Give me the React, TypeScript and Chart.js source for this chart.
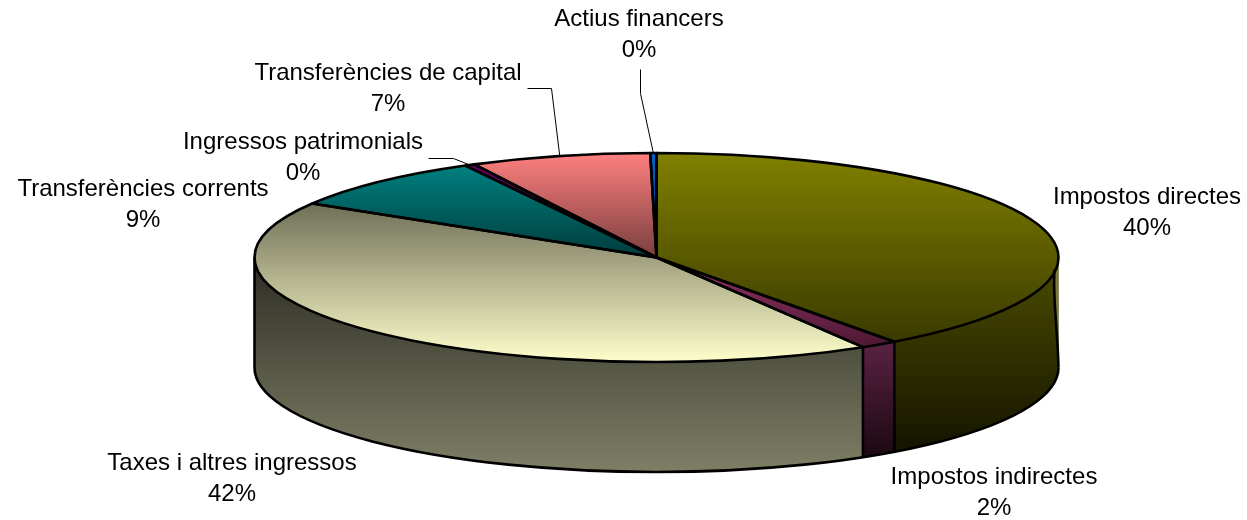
import React, { useEffect, useRef } from "react";
import { Chart, registerables } from "chart.js";

Chart.register(...registerables);

const categories = [
  "Impostos directes",
  "Impostos indirectes",
  "Taxes i altres ingressos",
  "Transferències corrents",
  "Ingressos patrimonials",
  "Transferències de capital",
  "Actius financers",
];
const shareValues = [40, 1.5, 42.3, 8.5, 0.4, 7.25, 0.25];
const percentLabels = ["40%", "2%", "42%", "9%", "0%", "7%", "0%"];

// styles: [bright end / top, far end / bottom] of each slice's surfaces
const topStops = [
  ["#808000", "#3a3a00"],
  ["#993366", "#4c1933"],
  ["#6f6f58", "#ffffcc"],
  ["#008080", "#003c3c"],
  ["#660066", "#330033"],
  ["#ff8080", "#7a3e3e"],
  ["#0066cc", "#003366"],
];
const wallStops = [
  ["#4c4c00", "#141400"],
  ["#5a2242", "#1c0812"],
  ["#2c2c24", "#7f7f66"],
  ["#004040", "#001010"],
  ["#330033", "#100010"],
  ["#7f4040", "#301818"],
  ["#003366", "#001020"],
];

// layout of the pie on the page
const CX = 656.5;
const CY = 257.5;
const RX = 402;
const RY = 104.5;
const DEPTH = 110;
const FONT = '24px "Liberation Sans", Arial, sans-serif';
const LINE_GAP = 31;
const OUTLINE = 2.6;

// label centres and leader elbows, indexed like categories
const labelPos: [number, number][] = [
  [1147, 197],
  [994, 477],
  [232, 463],
  [143, 189],
  [303, 142],
  [388, 73],
  [639, 19],
];
const leaders: ([number, number][] | null)[] = [
  null,
  null,
  null,
  null,
  [[428, 158], [453, 158]],
  [[527, 88], [551, 88]],
  [[640, 69], [640, 93]],
];

const total = shareValues.reduce((a, b) => a + b, 0);

// min and max of sin(angle) across a slice, on the unit circle
function sliceSinRange(i: number, withCentre: boolean): [number, number] {
  let before = 0;
  for (let k = 0; k < i; k++) before += shareValues[k];
  const a0 = -Math.PI / 2 + (before / total) * 2 * Math.PI;
  const a1 = a0 + (shareValues[i] / total) * 2 * Math.PI;
  let lo = Math.min(Math.sin(a0), Math.sin(a1));
  let hi = Math.max(Math.sin(a0), Math.sin(a1));
  if (a0 <= Math.PI / 2 && a1 >= Math.PI / 2) hi = 1;
  if (a0 <= -Math.PI / 2 + 1e-9 && a1 >= -Math.PI / 2) lo = -1;
  if (a0 <= (3 * Math.PI) / 2 && a1 >= (3 * Math.PI) / 2) lo = -1;
  if (withCentre) {
    lo = Math.min(lo, 0);
    hi = Math.max(hi, 0);
  }
  return [lo, hi];
}

const pie3d = {
  id: "pie3d",
  beforeDatasetsDraw(chart: any) {
    const ctx = chart.ctx as CanvasRenderingContext2D;
    const arcs = chart.getDatasetMeta(0).data;
    // side wall of every slice facing the viewer
    arcs.forEach((el: any, i: number) => {
      const a = Math.max(el.startAngle, 0);
      const b = Math.min(el.endAngle, Math.PI);
      if (b <= a) return;
      const yTop = CY + RY * Math.min(Math.sin(a), Math.sin(b));
      const yBot = CY + DEPTH + RY * (a <= Math.PI / 2 && b >= Math.PI / 2 ? 1 : Math.max(Math.sin(a), Math.sin(b)));
      const g = ctx.createLinearGradient(0, yTop, 0, yBot);
      g.addColorStop(0, wallStops[i][0]);
      g.addColorStop(1, wallStops[i][1]);
      ctx.beginPath();
      ctx.ellipse(CX, CY, RX, RY, 0, a, b);
      ctx.ellipse(CX, CY + DEPTH, RX, RY, 0, b, a, true);
      ctx.closePath();
      ctx.fillStyle = g;
      ctx.fill();
    });
    // pale sliver on the right of the wall
    ctx.beginPath();
    ctx.moveTo(CX + RX - 4, CY + 12);
    ctx.bezierCurveTo(CX + RX - 6, CY + 40, CX + RX - 1, CY + 70, CX + RX, CY + DEPTH);
    ctx.lineTo(CX + RX, CY + 85);
    ctx.lineTo(CX + RX, CY);
    ctx.closePath();
    ctx.fillStyle = "#77773c";
    ctx.fill();
    // squash the library's circular pie into the top ellipse
    const o = arcs[0];
    const k = o.outerRadius;
    ctx.save();
    ctx.translate(CX, CY);
    ctx.scale(RX / k, RY / k);
    ctx.translate(-o.x, -o.y);
  },
  afterDatasetsDraw(chart: any) {
    const ctx = chart.ctx as CanvasRenderingContext2D;
    ctx.restore();
    const arcs = chart.getDatasetMeta(0).data;
    ctx.strokeStyle = "#000";
    ctx.lineJoin = "round";
    ctx.lineCap = "butt";

    // outline of each slice on the top
    ctx.lineWidth = OUTLINE;
    arcs.forEach((el: any) => {
      ctx.beginPath();
      ctx.moveTo(CX, CY);
      ctx.ellipse(CX, CY, RX, RY, 0, el.startAngle, el.endAngle);
      ctx.closePath();
      ctx.stroke();
    });

    // wall outline
    ctx.beginPath();
    ctx.moveTo(CX - RX, CY);
    ctx.lineTo(CX - RX, CY + DEPTH);
    ctx.ellipse(CX, CY + DEPTH, RX, RY, 0, Math.PI, 0, true);
    ctx.stroke();
    ctx.beginPath();
    ctx.moveTo(CX + RX - 4, CY + 12);
    ctx.bezierCurveTo(CX + RX - 6, CY + 40, CX + RX - 1, CY + 70, CX + RX, CY + DEPTH);
    ctx.stroke();
    arcs.forEach((el: any) => {
      const e = el.endAngle;
      if (e > 0 && e < Math.PI) {
        const x = CX + RX * Math.cos(e);
        const y = CY + RY * Math.sin(e);
        ctx.beginPath();
        ctx.moveTo(x, y);
        ctx.lineTo(x, y + DEPTH);
        ctx.stroke();
      }
    });

    // leaders
    ctx.lineWidth = 1;
    arcs.forEach((el: any, i: number) => {
      const elbow = leaders[i];
      if (!elbow) return;
      const mid = (el.startAngle + el.endAngle) / 2;
      ctx.beginPath();
      elbow.forEach(([x, y], n) => (n ? ctx.lineTo(x + 0.5, y + 0.5) : ctx.moveTo(x + 0.5, y + 0.5)));
      ctx.lineTo(CX + RX * Math.cos(mid), CY + RY * Math.sin(mid));
      ctx.stroke();
    });

    // labels
    ctx.fillStyle = "#000";
    ctx.font = FONT;
    ctx.textAlign = "center";
    ctx.textBaseline = "middle";
    categories.forEach((name, i) => {
      const [x, y] = labelPos[i];
      ctx.fillText(name, x, y);
      ctx.fillText(percentLabels[i], x, y + LINE_GAP);
    });
  },
};

export default function App() {
  const ref = useRef<HTMLCanvasElement>(null);
  useEffect(() => {
    const canvas = ref.current!;
    const chart = new Chart(canvas, {
      type: "pie",
      data: {
        labels: categories,
        datasets: [
          {
            data: shareValues,
            borderWidth: 0,
            backgroundColor: (c: any) => {
              const i = c.dataIndex;
              if (i === undefined) return "#000";
              const area = c.chart.chartArea;
              if (!area) return topStops[i][0];
              const R = Math.min(area.right - area.left, area.bottom - area.top) / 2;
              const my = (area.top + area.bottom) / 2;
              const [lo, hi] = sliceSinRange(i, true);
              const g = c.chart.ctx.createLinearGradient(0, my + R * lo, 0, my + R * hi);
              g.addColorStop(0, topStops[i][0]);
              g.addColorStop(1, topStops[i][1]);
              return g;
            },
          },
        ],
      },
      options: {
        animation: false,
        responsive: false,
        events: [],
        layout: { padding: 0 },
        plugins: { legend: { display: false }, tooltip: { enabled: false }, title: { display: false } },
      },
      plugins: [pie3d],
    } as any);
    return () => chart.destroy();
  }, []);
  return (
    <div style={{ position: "absolute", left: 0, top: 0, width: 1247, height: 520, background: "#fff" }}>
      <canvas ref={ref} width={1247} height={520} style={{ display: "block" }} />
    </div>
  );
}
